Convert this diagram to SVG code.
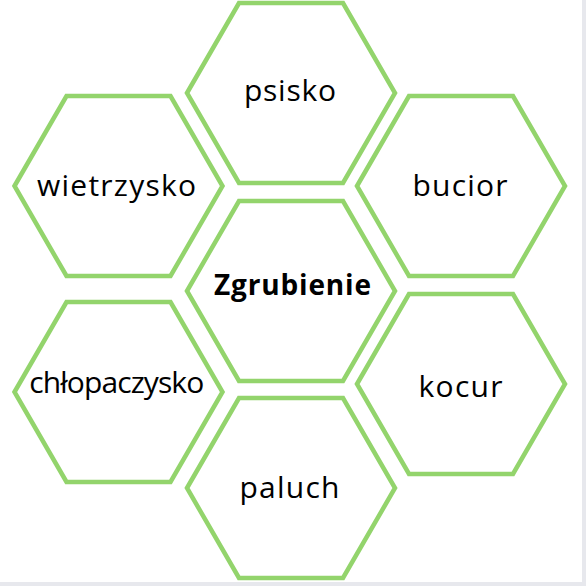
<svg xmlns="http://www.w3.org/2000/svg" xmlns:xlink="http://www.w3.org/1999/xlink" width="586" height="586" viewBox="0 0 586 586">
  <style>
    .hex { fill: #ffffff; stroke: #93d46c; stroke-width: 4.5; stroke-linejoin: miter; }
    .lbl { font-family: "Open Sans", "Noto Sans", "Liberation Sans", sans-serif; font-size: 30px; fill: #000000; text-anchor: middle; }
    .bold { font-weight: bold; font-size: 28px; }
    .edge { fill: #e7e8ed; }
  </style>
  <defs>
    <polygon id="hex" class="hex" points="-104,0 -52,-90 52,-90 104,0 52,90 -52,90"/>
  </defs>
  <rect x="0" y="0" width="586" height="586" fill="#ffffff"/>
  <rect class="edge" x="582" y="0" width="4" height="586"/>
  <rect class="edge" x="0" y="582" width="586" height="4"/>
  <g id="connectors"/>
  <g id="node-psisko">
    <use xlink:href="#hex" href="#hex" transform="translate(291,93)"/>
    <text class="lbl" x="290" y="101" textLength="92" lengthAdjust="spacing">psisko</text>
  </g>
  <g id="node-wietrzysko">
    <use xlink:href="#hex" href="#hex" transform="translate(118.5,186)"/>
    <text class="lbl" x="116.5" y="196" textLength="159" lengthAdjust="spacing">wietrzysko</text>
  </g>
  <g id="node-bucior">
    <use xlink:href="#hex" href="#hex" transform="translate(461,186)"/>
    <text class="lbl" x="460" y="196" textLength="95" lengthAdjust="spacing">bucior</text>
  </g>
  <g id="node-zgrubienie">
    <use xlink:href="#hex" href="#hex" transform="translate(291,291)"/>
    <text class="lbl bold" x="292.5" y="295" textLength="157" lengthAdjust="spacing">Zgrubienie</text>
  </g>
  <g id="node-chlopaczysko">
    <use xlink:href="#hex" href="#hex" transform="translate(118.5,392)"/>
    <text class="lbl" x="116.7" y="393" font-size="27" textLength="175" lengthAdjust="spacing">chłopaczysko</text>
  </g>
  <g id="node-kocur">
    <use xlink:href="#hex" href="#hex" transform="translate(461,384)"/>
    <text class="lbl" x="460.5" y="397" textLength="84" lengthAdjust="spacing">kocur</text>
  </g>
  <g id="node-paluch">
    <use xlink:href="#hex" href="#hex" transform="translate(291,488)"/>
    <text class="lbl" x="289.5" y="498" textLength="100" lengthAdjust="spacing">paluch</text>
  </g>
</svg>
